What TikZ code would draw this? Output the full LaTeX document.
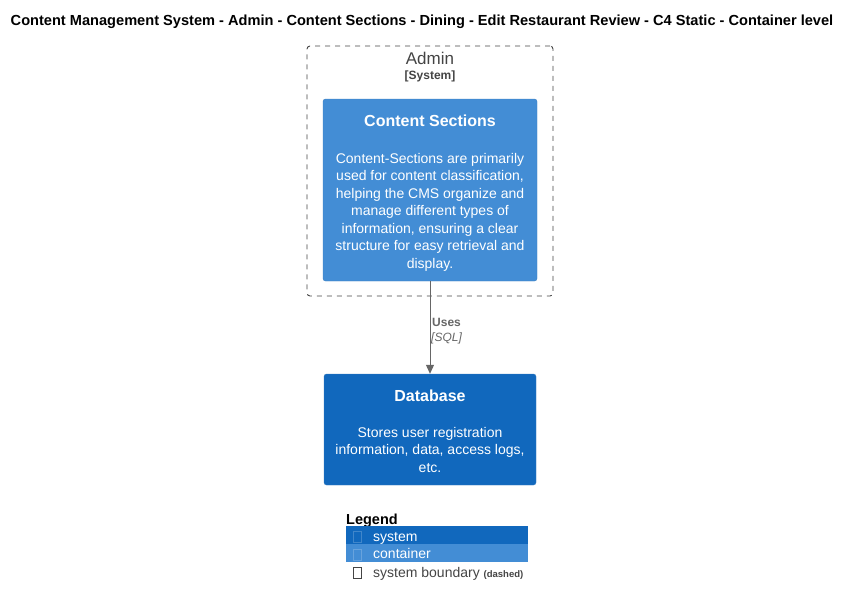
\documentclass[tikz,border=0pt]{standalone}
\usepackage{fontspec}
\setmainfont{Liberation Sans}
\usetikzlibrary{positioning,arrows.meta}

\definecolor{sysblue}{HTML}{1168BD}
\definecolor{contblue}{HTML}{438DD5}
\definecolor{boxline}{HTML}{3C7FC0}
\definecolor{bndgray}{HTML}{444444}
\definecolor{relgray}{HTML}{666666}

\tikzset{
  boundary/.style={draw=bndgray, dash pattern=on 5pt off 5pt, rounded corners=3pt, line width=0.9pt, inner sep=0pt},
  container/.style={draw=boxline, fill=contblue, rounded corners=2.5pt, inner sep=0pt},
  sysbox/.style={draw=boxline, fill=sysblue, rounded corners=2.5pt, inner sep=0pt},
  boxtitle/.style={anchor=base, inner sep=0pt, text=white, font=\bfseries\fontsize{16}{19}\selectfont},
  boxtext/.style={anchor=base, inner sep=0pt, text=white, align=center, font=\fontsize{14}{17.5}\selectfont},
  legrow/.style={anchor=north west, minimum width=182pt, minimum height=18pt, inner sep=0pt},
  tofu/.style={anchor=north west, minimum width=8pt, minimum height=11pt, inner sep=0pt, line width=0.8pt},
  legtext/.style={anchor=base west, inner sep=0pt, font=\fontsize{14}{17}\selectfont},
  rel/.style={draw=relgray, line width=1pt, -{Triangle[length=9pt,width=8pt]}}
}

\begin{document}
\begin{tikzpicture}[x=1pt,y=-1pt]
    \useasboundingbox (0,0) rectangle (852,605);

    % Title
    \node[anchor=base, inner sep=0pt, font=\bfseries\fontsize{14.6}{16}\selectfont] (title) at (422,25)
        {Content Management System - Admin - Content Sections - Dining - Edit Restaurant Review - C4 Static - Container level};

    % Admin system boundary
    \node[boundary, minimum width=246pt, minimum height=250pt] (admin) at (430,171) {};
    \node[anchor=base, inner sep=0pt, text=bndgray, font=\fontsize{17}{20}\selectfont] (adminname) at (430,64) {Admin};
    \node[anchor=base, inner sep=0pt, text=bndgray, font=\bfseries\fontsize{12}{14}\selectfont] (admintype) at (430,79.5) {[System]};

    % Content Sections container
    \node[container, minimum width=214pt, minimum height=182pt] (sections) at (430,190) {};
    \node[boxtitle] (sectionsname) at (430,126) {Content Sections};
    % (base of a multi-line node is its last line)
    \node[boxtext] (sectionsdesc) at (430,268) {Content-Sections are primarily\\used for content classification,\\helping the CMS organize and\\manage different types of\\information, ensuring a clear\\structure for easy retrieval and\\display.};

    % Database
    \node[sysbox, minimum width=212pt, minimum height=111pt] (db) at (430,429.5) {};
    \node[boxtitle] (dbname) at (430,401) {Database};
    \node[boxtext] (dbdesc) at (430,472) {Stores user registration\\information, data, access logs,\\etc.};

    % Relationship
    \draw[rel] (sections) -- (db);
    \node[anchor=base west, inner sep=0pt, text=relgray, font=\bfseries\fontsize{12}{14}\selectfont] (uses) at (432,326) {Uses};
    \node[anchor=base west, inner sep=0pt, text=relgray, font=\itshape\fontsize{12}{14}\selectfont] (sql) at (431,341) {[SQL]};

    % Legend
    \node[anchor=base west, inner sep=0pt, font=\bfseries\fontsize{14.5}{17}\selectfont] (legend) at (346,524) {Legend};
    \node[legrow, fill=sysblue] (legsys) at (346,526) {};
    \node[legrow, fill=contblue] (legcont) at (346,544) {};
    \node[tofu, draw=white, draw opacity=0.2] (tofusys) at (353,531) {};
    \node[tofu, draw=white, draw opacity=0.2] (tofucont) at (353,549) {};
    \node[tofu, draw=bndgray] (tofubnd) at (353,567) {};
    \node[legtext, text=white] (legsystext) at (373,541) {system};
    \node[legtext, text=white] (legconttext) at (373,558) {container};
    \node[legtext, text=bndgray] (legbndtext) at (373,577) {system boundary {\bfseries\fontsize{9.5}{11}\selectfont (dashed)}};
\end{tikzpicture}
\end{document}
